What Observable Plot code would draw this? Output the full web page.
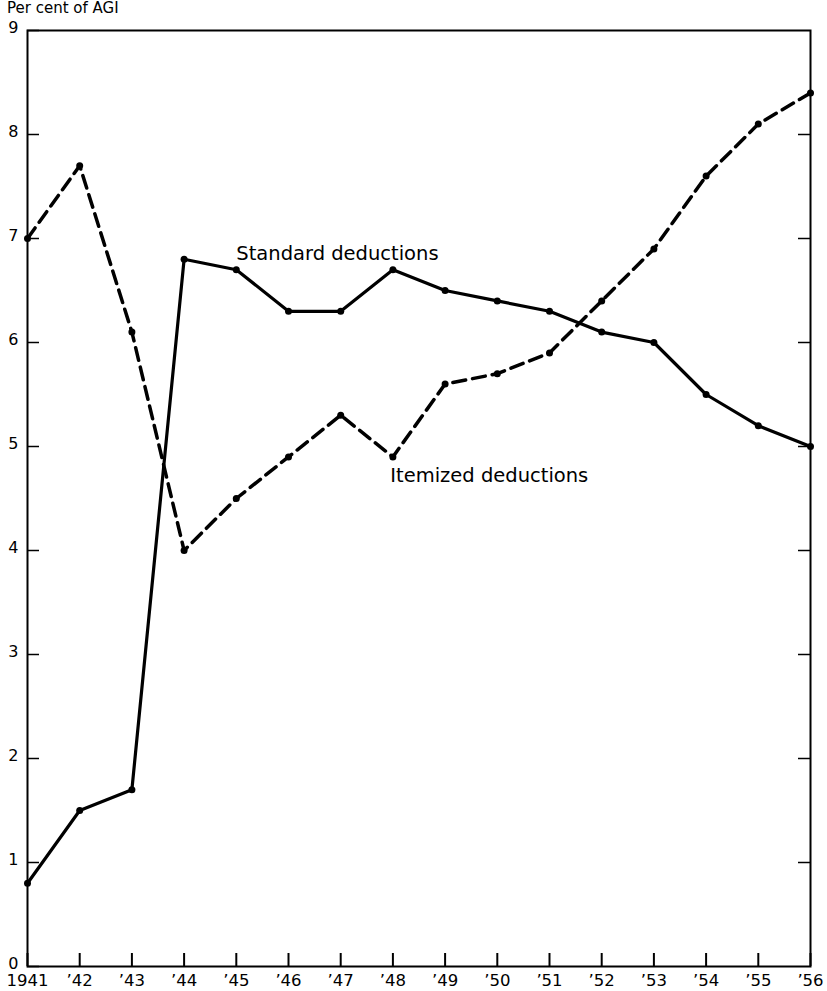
<!DOCTYPE html>
<html>
<head>
<meta charset="utf-8">
<script src="https://cdn.jsdelivr.net/npm/d3@7"></script>
<script src="https://cdn.jsdelivr.net/npm/@observablehq/plot@0.6"></script>
<style>
  html, body { margin: 0; padding: 0; background: #fff; }
  #wrap { position: relative; width: 827px; height: 991px; font-family: "DejaVu Sans", sans-serif; }
  #title { position: absolute; left: 7px; top: 0px; font-size: 15px; line-height: 17px; color: #000; }
  svg { display: block; }
</style>
</head>
<body>
<div id="wrap"><div id="title">Per cent of AGI</div></div>
<script>
const years = [1941, 1942, 1943, 1944, 1945, 1946, 1947, 1948, 1949, 1950, 1951, 1952, 1953, 1954, 1955, 1956];
const standard = [0.8, 1.5, 1.7, 6.8, 6.7, 6.3, 6.3, 6.7, 6.5, 6.4, 6.3, 6.1, 6.0, 5.5, 5.2, 5.0];
const itemized = [7.0, 7.7, 6.1, 4.0, 4.5, 4.9, 5.3, 4.9, 5.6, 5.7, 5.9, 6.4, 6.9, 7.6, 8.1, 8.4];
const yTicks = [0, 1, 2, 3, 4, 5, 6, 7, 8, 9];
const rightTicks = [1, 2, 3, 4, 5, 6, 7, 8];
const seriesLabels = ["Standard deductions", "Itemized deductions"];
const labelYears = [1945, 1947.95];
const labelValues = [6.85, 4.72];

const stdData = years.map((y, i) => ({year: y, value: standard[i]}));
const itmData = years.map((y, i) => ({year: y, value: itemized[i]}));
const labelData = seriesLabels.map((t, i) => ({text: t, year: labelYears[i], value: labelValues[i]}));

const fmtYear = d => d === 1941 ? "1941" : "\u2019" + String(d).slice(2);

const chart = Plot.plot({
  width: 827,
  height: 991,
  marginTop: 30,
  marginBottom: 25,
  marginLeft: 27,
  marginRight: 17,
  style: {fontFamily: "DejaVu Sans, sans-serif", fontSize: "17px", color: "#000", background: "#fff"},
  x: {domain: [1941, 1956]},
  y: {domain: [0, 9]},
  marks: [
    Plot.frame({stroke: "#000", strokeWidth: 2}),
    Plot.axisY(yTicks, {anchor: "left", tickSize: -12, tickFormat: () => "", label: null, strokeWidth: 1.5}),
    Plot.axisY(yTicks, {anchor: "left", tickSize: 0, tickPadding: 9, tickFormat: d => String(d), label: null, fontSize: 16, dy: -3}),
    Plot.axisY(rightTicks, {anchor: "right", tickSize: -13, tickFormat: () => "", label: null, strokeWidth: 1.5}),
    Plot.axisX(years, {anchor: "bottom", tickSize: -13, tickPadding: 21, tickFormat: fmtYear, label: null, fontSize: 16.5, strokeWidth: 2}),
    Plot.line(itmData, {x: "year", y: "value", stroke: "#000", strokeWidth: 3.5, strokeDasharray: "13,7"}),
    Plot.line(stdData, {x: "year", y: "value", stroke: "#000", strokeWidth: 3.2}),
    Plot.dot(itmData, {x: "year", y: "value", r: 3.5, fill: "#000"}),
    Plot.dot(stdData, {x: "year", y: "value", r: 3.5, fill: "#000"}),
    Plot.text(labelData, {x: "year", y: "value", text: "text", textAnchor: "start", fontSize: 19.5, fill: "#000"})
  ]
});
document.getElementById("wrap").prepend(chart);
</script>
</body>
</html>
